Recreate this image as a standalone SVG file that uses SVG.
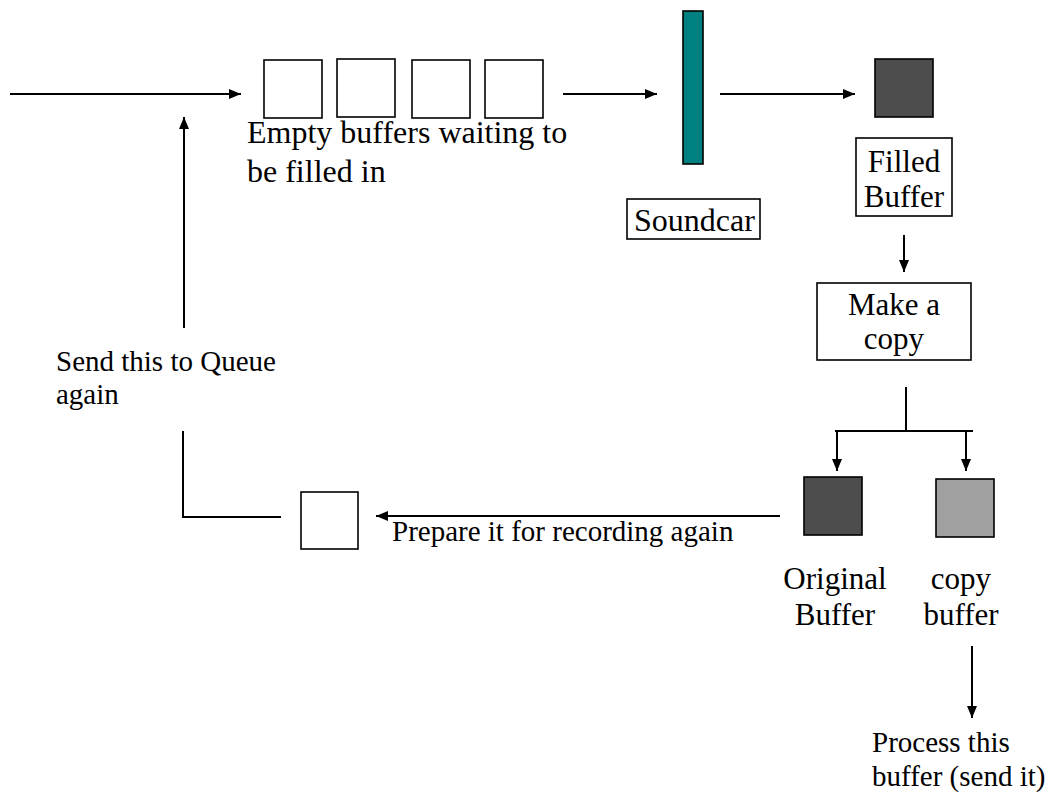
<svg xmlns="http://www.w3.org/2000/svg" width="1048" height="793" viewBox="0 0 1048 793">
<style>
text{font-family:"Liberation Serif","Times New Roman",serif;fill:#000}
.t31{font-size:31px}
.t29{font-size:29px}
.t32{font-size:32px}
.box{fill:#fff;stroke:#000;stroke-width:1.6}
.ln{fill:none;stroke:#000;stroke-width:2}
</style>
<defs>
<marker id="ah" markerWidth="12" markerHeight="10" refX="12" refY="5" orient="auto" markerUnits="userSpaceOnUse">
<path d="M0,0 L12,5 L0,10 z" fill="#000"/>
</marker>
</defs>
<rect width="1048" height="793" fill="#fff"/>
<g id="connectors">
<line class="ln" x1="10" y1="94" x2="241" y2="94" marker-end="url(#ah)"/>
<line class="ln" x1="563" y1="94" x2="657" y2="94" marker-end="url(#ah)"/>
<line class="ln" x1="720" y1="94" x2="855" y2="94" marker-end="url(#ah)"/>
<line class="ln" x1="904" y1="235" x2="904" y2="272" marker-end="url(#ah)"/>
<line class="ln" x1="906" y1="387" x2="906" y2="430"/>
<line class="ln" x1="835" y1="431" x2="973" y2="431"/>
<line class="ln" x1="837" y1="431" x2="837" y2="471" marker-end="url(#ah)"/>
<line class="ln" x1="966" y1="431" x2="966" y2="471" marker-end="url(#ah)"/>
<line class="ln" x1="972" y1="646" x2="972" y2="718" marker-end="url(#ah)"/>
<line class="ln" x1="780" y1="516" x2="376" y2="516" marker-end="url(#ah)"/>
<polyline class="ln" points="281,517 183,517 183,431"/>
<line class="ln" x1="184" y1="328" x2="184" y2="117" marker-end="url(#ah)"/>
</g>
<g id="queue">
<rect class="box" x="264" y="60" width="58" height="58"/>
<rect class="box" x="337" y="59" width="58" height="58"/>
<rect class="box" x="412" y="60" width="58" height="58"/>
<rect class="box" x="485" y="60" width="58" height="58"/>
<text class="t32" x="247" y="143">Empty buffers waiting to</text>
<text class="t32" x="247" y="182">be filled in</text>
</g>
<g id="soundcard">
<rect x="683" y="11" width="20" height="153" fill="#008080" stroke="#000" stroke-width="1.6"/>
<rect class="box" x="627" y="199" width="133" height="40"/>
<text class="t32" x="634" y="231">Soundcar</text>
</g>
<g id="filled">
<rect x="875" y="59" width="58" height="58" fill="#4d4d4d" stroke="#000" stroke-width="1.6"/>
<rect class="box" x="856" y="138" width="96" height="78"/>
<text class="t31" x="904" y="172" text-anchor="middle">Filled</text>
<text class="t31" x="904" y="207" text-anchor="middle">Buffer</text>
</g>
<g id="makecopy">
<rect class="box" x="817" y="283" width="154" height="77"/>
<text class="t31" x="894" y="315" text-anchor="middle">Make a</text>
<text class="t31" x="894" y="349" text-anchor="middle">copy</text>
</g>
<g id="original">
<rect x="804" y="477" width="58" height="58" fill="#4d4d4d" stroke="#000" stroke-width="1.6"/>
<text class="t31" x="835" y="589" text-anchor="middle">Original</text>
<text class="t31" x="835" y="625" text-anchor="middle">Buffer</text>
</g>
<g id="copybuf">
<rect x="936" y="479" width="58" height="58" fill="#a0a0a0" stroke="#000" stroke-width="1.6"/>
<text class="t31" x="961" y="589" text-anchor="middle">copy</text>
<text class="t31" x="961" y="625" text-anchor="middle">buffer</text>
</g>
<g id="process">
<text class="t29" x="872" y="752">Process this</text>
<text class="t29" x="872" y="786">buffer (send it)</text>
</g>
<g id="prepared">
<rect class="box" x="301" y="492" width="57" height="57"/>
<text class="t29" x="392" y="541">Prepare it for recording again</text>
</g>
<g id="sendqueue">
<text class="t29" x="56" y="371">Send this to Queue</text>
<text class="t29" x="56" y="404">again</text>
</g>
</svg>
